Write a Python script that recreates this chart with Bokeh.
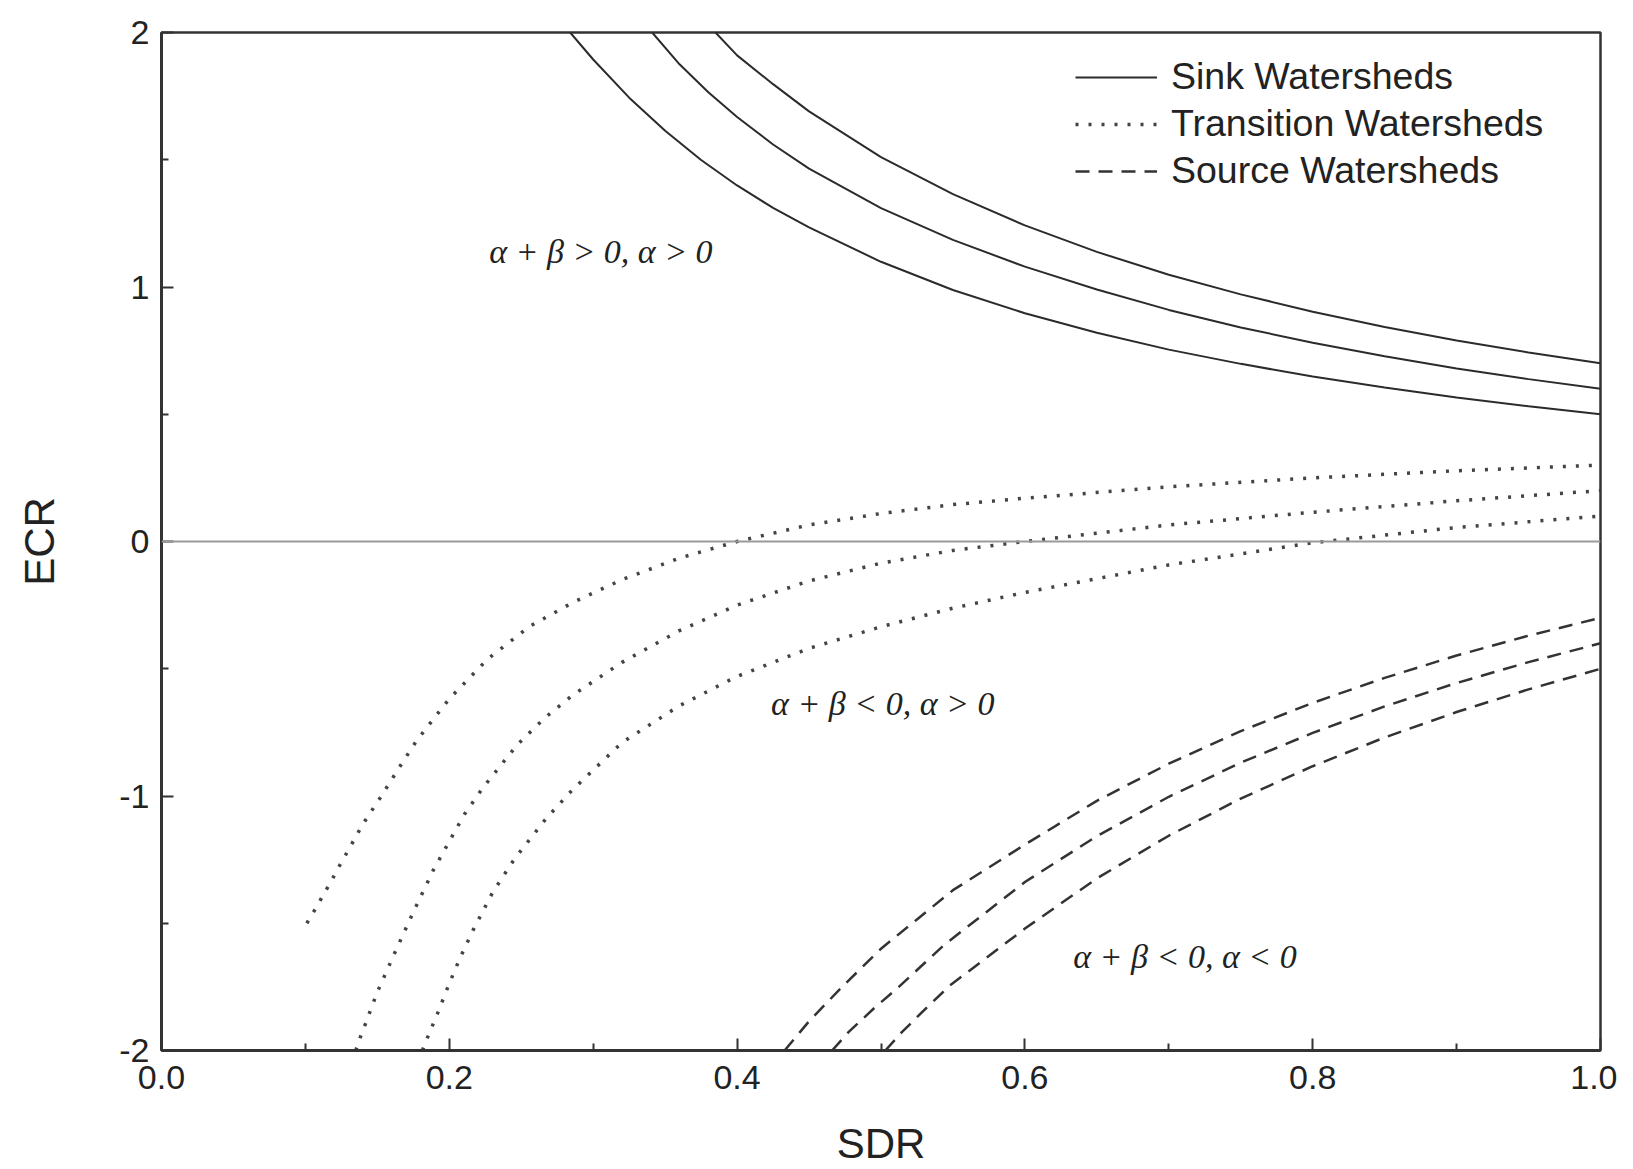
from bokeh.plotting import figure
from bokeh.models import Range1d, FixedTicker, Label, Span, Legend, LegendItem
from bokeh.embed import file_html
from bokeh.resources import INLINE

# ---------------- data ----------------
x_ticks = [0.0, 0.2, 0.4, 0.6, 0.8, 1.0]
x_minor = [0.1, 0.3, 0.5, 0.7, 0.9]
y_ticks = [-2, -1, 0, 1, 2]
y_minor = [-1.5, -0.5, 0.5, 1.5]
x_tick_labels = {0.0: "0.0", 0.2: "0.2", 0.4: "0.4", 0.6: "0.6", 0.8: "0.8", 1.0: "1.0"}
y_tick_labels = {-2: "-2", -1: "-1", 0: "0", 1: "1", 2: "2"}
x_title = "SDR"
y_title = "ECR"

# Sink watersheds (solid)
sink1_x = [0.284, 0.30, 0.325, 0.35, 0.375, 0.40, 0.425, 0.45, 0.50, 0.55, 0.60, 0.65, 0.70, 0.75, 0.80, 0.85, 0.90, 0.95, 1.00]
sink1_y = [2.00, 1.894, 1.744, 1.614, 1.499, 1.399, 1.311, 1.234, 1.099, 0.988, 0.897, 0.82, 0.754, 0.698, 0.648, 0.605, 0.566, 0.531, 0.50]
sink2_x = [0.341, 0.36, 0.38, 0.40, 0.425, 0.45, 0.50, 0.55, 0.60, 0.65, 0.70, 0.75, 0.80, 0.85, 0.90, 0.95, 1.00]
sink2_y = [2.00, 1.875, 1.765, 1.668, 1.56, 1.465, 1.31, 1.185, 1.08, 0.99, 0.91, 0.841, 0.781, 0.728, 0.68, 0.638, 0.60]
sink3_x = [0.385, 0.40, 0.425, 0.45, 0.50, 0.55, 0.60, 0.65, 0.70, 0.75, 0.80, 0.85, 0.90, 0.95, 1.00]
sink3_y = [2.00, 1.91, 1.797, 1.69, 1.51, 1.365, 1.242, 1.138, 1.048, 0.971, 0.903, 0.843, 0.79, 0.743, 0.70]

# Transition watersheds (dotted)
trans1_x = [0.101, 0.107, 0.1125, 0.118, 0.1234, 0.1287, 0.14, 0.152, 0.165, 0.177, 0.19, 0.20, 0.227, 0.256, 0.286, 0.32, 0.36, 0.40, 0.45, 0.50, 0.55, 0.60, 0.70, 0.80, 0.90, 1.00]
trans1_y = [-1.50, -1.443, -1.388, -1.334, -1.277, -1.224, -1.11, -1.007, -0.89, -0.785, -0.69, -0.618, -0.46, -0.333, -0.239, -0.15, -0.065, 0.0, 0.065, 0.11, 0.145, 0.17, 0.215, 0.25, 0.278, 0.30]
trans2_x = [0.135, 0.138, 0.1417, 0.15, 0.1618, 0.175, 0.189, 0.2105, 0.2237, 0.2473, 0.2666, 0.2859, 0.32, 0.36, 0.40, 0.45, 0.50, 0.55, 0.60, 0.70, 0.80, 0.90, 1.00]
trans2_y = [-2.0, -1.95, -1.895, -1.77, -1.62, -1.456, -1.29, -1.072, -0.965, -0.798, -0.692, -0.603, -0.475, -0.35, -0.25, -0.155, -0.085, -0.035, 0.0, 0.065, 0.115, 0.16, 0.20]
trans3_x = [0.1813, 0.1837, 0.1917, 0.1994, 0.2075, 0.2168, 0.23, 0.2453, 0.2675, 0.2852, 0.32, 0.36, 0.40, 0.45, 0.50, 0.55, 0.60, 0.70, 0.80, 0.90, 1.00]
trans3_y = [-2.0, -1.965, -1.856, -1.745, -1.636, -1.524, -1.38, -1.247, -1.087, -0.978, -0.79, -0.645, -0.53, -0.42, -0.335, -0.262, -0.20, -0.092, -0.005, 0.055, 0.10]

# Source watersheds (dashed)
src1_x = [0.433, 0.45, 0.4728, 0.50, 0.525, 0.55, 0.60, 0.65, 0.70, 0.75, 0.80, 0.85, 0.90, 0.95, 1.00]
src1_y = [-2.0, -1.885, -1.751, -1.60, -1.485, -1.37, -1.191, -1.019, -0.873, -0.745, -0.634, -0.536, -0.448, -0.370, -0.30]
src2_x = [0.466, 0.4774, 0.4948, 0.511, 0.5273, 0.5435, 0.60, 0.65, 0.70, 0.75, 0.80, 0.85, 0.90, 0.95, 1.00]
src2_y = [-2.0, -1.928, -1.836, -1.757, -1.672, -1.587, -1.338, -1.158, -1.003, -0.869, -0.752, -0.648, -0.556, -0.474, -0.40]
src3_x = [0.503, 0.5145, 0.532, 0.548, 0.60, 0.65, 0.70, 0.75, 0.80, 0.85, 0.90, 0.95, 1.00]
src3_y = [-2.0, -1.928, -1.83, -1.744, -1.521, -1.324, -1.156, -1.010, -0.883, -0.770, -0.670, -0.581, -0.50]

legend_labels = ["Sink Watersheds", "Transition Watersheds", "Source Watersheds"]
region_texts = ["α + β > 0, α > 0", "α + β < 0, α > 0", "α + β < 0, α < 0"]
region_pos = [(0.2277, 1.14), (0.4236, -0.636), (0.6336, -1.631)]

# ---------------- figure ----------------
p = figure(width=1617, height=1169, output_backend="svg", toolbar_location=None,
           x_range=Range1d(0, 1), y_range=Range1d(-2, 2),
           min_border_left=161, min_border_right=17, min_border_top=32, min_border_bottom=119)
p.background_fill_color = "white"
p.border_fill_color = "white"
p.xgrid.visible = False
p.ygrid.visible = False
p.outline_line_color = "#333333"
p.outline_line_width = 2.5

for ax in (p.xaxis[0], p.yaxis[0]):
    ax.axis_line_color = "#333333"
    ax.axis_line_width = 3
    ax.major_tick_in = 12
    ax.major_tick_out = 0
    ax.minor_tick_in = 7
    ax.minor_tick_out = 0
    ax.major_tick_line_color = "#333333"
    ax.major_tick_line_width = 2
    ax.minor_tick_line_color = "#333333"
    ax.minor_tick_line_width = 2
    ax.major_label_text_font = "Liberation Sans"
    ax.major_label_text_font_size = "34px"
    ax.major_label_text_color = "#222222"
    ax.axis_label_text_font = "Liberation Sans"
    ax.axis_label_text_font_size = "42px"
    ax.axis_label_text_font_style = "normal"
    ax.axis_label_text_color = "#222222"

p.xaxis.ticker = FixedTicker(ticks=x_ticks, minor_ticks=x_minor)
p.yaxis.ticker = FixedTicker(ticks=y_ticks, minor_ticks=y_minor)
p.xaxis.major_label_overrides = x_tick_labels
p.yaxis.major_label_overrides = y_tick_labels
p.xaxis.axis_label = x_title
p.yaxis.axis_label = y_title
p.xaxis.major_label_standoff = 15
p.yaxis.major_label_standoff = 12
p.xaxis.axis_label_standoff = 28
p.yaxis.axis_label_standoff = 53

p.add_layout(Span(location=0, dimension="width", line_color="#9a9a9a", line_width=2))

solid_kw = dict(line_color="#2b2b2b", line_width=2)
dot_kw = dict(line_color="#444444", line_width=3.5, line_dash="3 10")
dash_kw = dict(line_color="#333333", line_width=2.5, line_dash="14 9")

r_sink = [p.line(x, y, **solid_kw) for x, y in ((sink1_x, sink1_y), (sink2_x, sink2_y), (sink3_x, sink3_y))]
r_trans = [p.line(x, y, **dot_kw) for x, y in ((trans1_x, trans1_y), (trans2_x, trans2_y), (trans3_x, trans3_y))]
r_src = [p.line(x, y, **dash_kw) for x, y in ((src1_x, src1_y), (src2_x, src2_y), (src3_x, src3_y))]

legend = Legend(items=[LegendItem(label=legend_labels[0], renderers=[r_sink[0]]),
                       LegendItem(label=legend_labels[1], renderers=[r_trans[0]]),
                       LegendItem(label=legend_labels[2], renderers=[r_src[0]])],
                location=(914, 858))
legend.border_line_color = None
legend.background_fill_alpha = 0
legend.margin = 0
legend.padding = 0
legend.spacing = 4
legend.glyph_width = 82
legend.glyph_height = 20
legend.label_height = 42
legend.label_standoff = 14
legend.label_text_font = "Liberation Sans"
legend.label_text_font_size = "37.5px"
legend.label_text_color = "#222222"
p.add_layout(legend, "center")

for txt, (lx, ly) in zip(region_texts, region_pos):
    p.add_layout(Label(x=lx, y=ly, text=txt, text_font="Liberation Serif",
                       text_font_style="italic", text_font_size="34px",
                       text_color="#222222", text_baseline="middle", text_align="left"))

open("out.html", "w").write(file_html(p, INLINE))
